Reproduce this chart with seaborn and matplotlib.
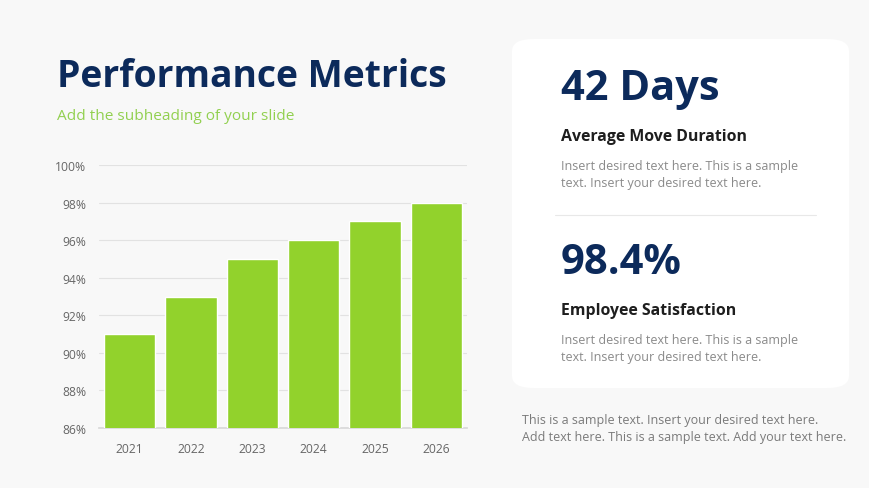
import matplotlib
matplotlib.use("Agg")
import pandas as pd
import seaborn as sns
from matplotlib import pyplot as plt
from matplotlib.patches import FancyBboxPatch

years = ["2021", "2022", "2023", "2024", "2025", "2026"]
scores = [91, 93, 95, 96, 97, 98]
y_ticks = [86, 88, 90, 92, 94, 96, 98, 100]

title = "Performance Metrics"
subtitle = "Add the subheading of your slide"
big_numbers = ["42 Days", "98.4%"]
headings = ["Average Move Duration", "Employee Satisfaction"]
body = "Insert desired text here. This is a sample\ntext. Insert your desired text here."
footer = "This is a sample text. Insert your desired text here.\nAdd text here. This is a sample text. Add your text here."

navy = "#0c2a5b"
green = "#92d22c"
bg = "#f8f8f8"

sns.set_theme(style="white")
plt.rcParams["font.family"] = ["Open Sans", "DejaVu Sans"]

df = pd.DataFrame({"year": years, "score": scores})

fig = plt.figure(figsize=(8.7, 4.89), dpi=100)
fig.patch.set_facecolor(bg)

ax = fig.add_axes([0.1138, 0.1227, 0.423, 0.5378])
ax.set_facecolor(bg)
sns.barplot(data=df, x="year", y="score", color=green, width=0.84,
            saturation=1, ax=ax, zorder=3)
ax.set_ylim(86, 100)
ax.set_yticks(y_ticks)
ax.set_yticklabels([f"{t}%" for t in y_ticks])
ax.grid(axis="y", color="#e2e2e2", linewidth=0.8, zorder=0)
ax.set_xlabel("")
ax.set_ylabel("")
for s in ["top", "right", "left"]:
    ax.spines[s].set_visible(False)
ax.spines["bottom"].set_color("#d9d9d9")
ax.tick_params(axis="both", length=0, labelsize=8.7, labelcolor="#666666")
ax.tick_params(axis="y", pad=9)
ax.tick_params(axis="x", pad=10)

# header
fig.text(57 / 870, 1 - 77 / 489, title, fontsize=26.8, fontweight="bold",
         color=navy, va="center", ha="left")
fig.text(57 / 870, 1 - 116 / 489, subtitle, fontsize=11.1,
         color="#92d050", va="center", ha="left")

# card
card = FancyBboxPatch((512 / 870, 1 - 389 / 489), 337 / 870, 349 / 489,
                      boxstyle="round,pad=0,rounding_size=0.025",
                      transform=fig.transFigure, facecolor="white",
                      edgecolor="none", zorder=0)
fig.patches.append(card)
fig.add_artist(plt.Line2D([555 / 870, 816 / 870], [1 - 216 / 489, 1 - 216 / 489],
                          transform=fig.transFigure, color="#e8e8e8", linewidth=0.8))

x0 = 561 / 870
for i, (num, head) in enumerate(zip(big_numbers, headings)):
    off = i * 174
    fig.text(x0, 1 - (90 + off) / 489, num, fontsize=30, fontweight="bold",
             color=navy, va="center", ha="left")
    fig.text(x0, 1 - (137 + off) / 489, head, fontsize=11.4, fontweight="bold",
             color="#1e1e1e", va="center", ha="left")
    fig.text(x0, 1 - (175 + off) / 489, body, fontsize=9.0, color="#8a8a8a",
             va="center", ha="left", linespacing=1.4)

fig.text(522 / 870, 1 - 429.5 / 489, footer, fontsize=9.0, color="#7a7a7a",
         va="center", ha="left", linespacing=1.4)

fig.savefig("out.png", dpi=100, facecolor=bg)
